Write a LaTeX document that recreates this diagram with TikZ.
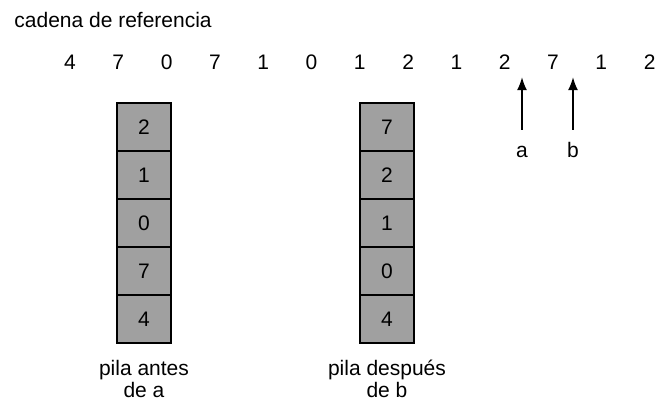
\documentclass[tikz,border=0pt]{standalone}
\usepackage{fontspec}
\setmainfont{Liberation Sans}
\usetikzlibrary{arrows.meta,positioning}
\definecolor{stackgray}{HTML}{A0A0A0}

\begin{document}
\begin{tikzpicture}[x=0.5pt,y=-0.5pt,
node distance=12.15pt,
font=\fontsize{10.5pt}{11pt}\selectfont,
num/.style={inner sep=0pt,outer sep=0pt,minimum width=12pt},
cell/.style={draw,line width=1.1pt,fill=stackgray,inner sep=0pt,outer sep=0pt,
  minimum width=27pt,minimum height=24pt},
lbl/.style={inner sep=0pt,text height=7.5pt},
pilatxt/.style={align=center,inner sep=0pt},
arr/.style={-{Latex[length=6.5pt,width=5pt]},line width=1pt}]
\useasboundingbox (0,0) rectangle (658,404);
\node[anchor=west,inner sep=0pt] (title) at (14,20) {cadena de referencia};
% cadena
\node[num] (r1) at (70,62) {4};
\node[num,right=of r1] (r2) {7};\node[num,right=of r2] (r3) {0};
\node[num,right=of r3] (r4) {7};\node[num,right=of r4] (r5) {1};
\node[num,right=of r5] (r6) {0};\node[num,right=of r6] (r7) {1};
\node[num,right=of r7] (r8) {2};\node[num,right=of r8] (r9) {1};
\node[num,right=of r9] (r10) {2};\node[num,right=of r10] (r11) {7};
\node[num,right=of r11] (r12) {1};\node[num,right=of r12] (r13) {2};
% pila antes de a
\node[cell] (a1) at (144,127) {2};
\node[cell,below=0pt of a1] (a2) {1};
\node[cell,below=0pt of a2] (a3) {0};
\node[cell,below=0pt of a3] (a4) {7};
\node[cell,below=0pt of a4] (a5) {4};
\node[pilatxt,below=8.5pt of a5] (capa) {pila antes\\de a};
% pila despues de b
\node[cell] (b1) at (387,127) {7};
\node[cell,below=0pt of b1] (b2) {2};
\node[cell,below=0pt of b2] (b3) {1};
\node[cell,below=0pt of b3] (b4) {0};
\node[cell,below=0pt of b4] (b5) {4};
\node[pilatxt,below=8.5pt of b5] (capb) {pila después\\de b};
% a, b
\node[lbl,anchor=base] (a) at (522,157) {a};
\node[lbl,anchor=base] (b) at (573,157) {b};
\coordinate (ta) at (522,77);\coordinate (tb) at (573,77);
\draw[arr,shorten <=6pt] (a)--(ta);\draw[arr,shorten <=6pt] (b)--(tb);
\end{tikzpicture}
\end{document}
